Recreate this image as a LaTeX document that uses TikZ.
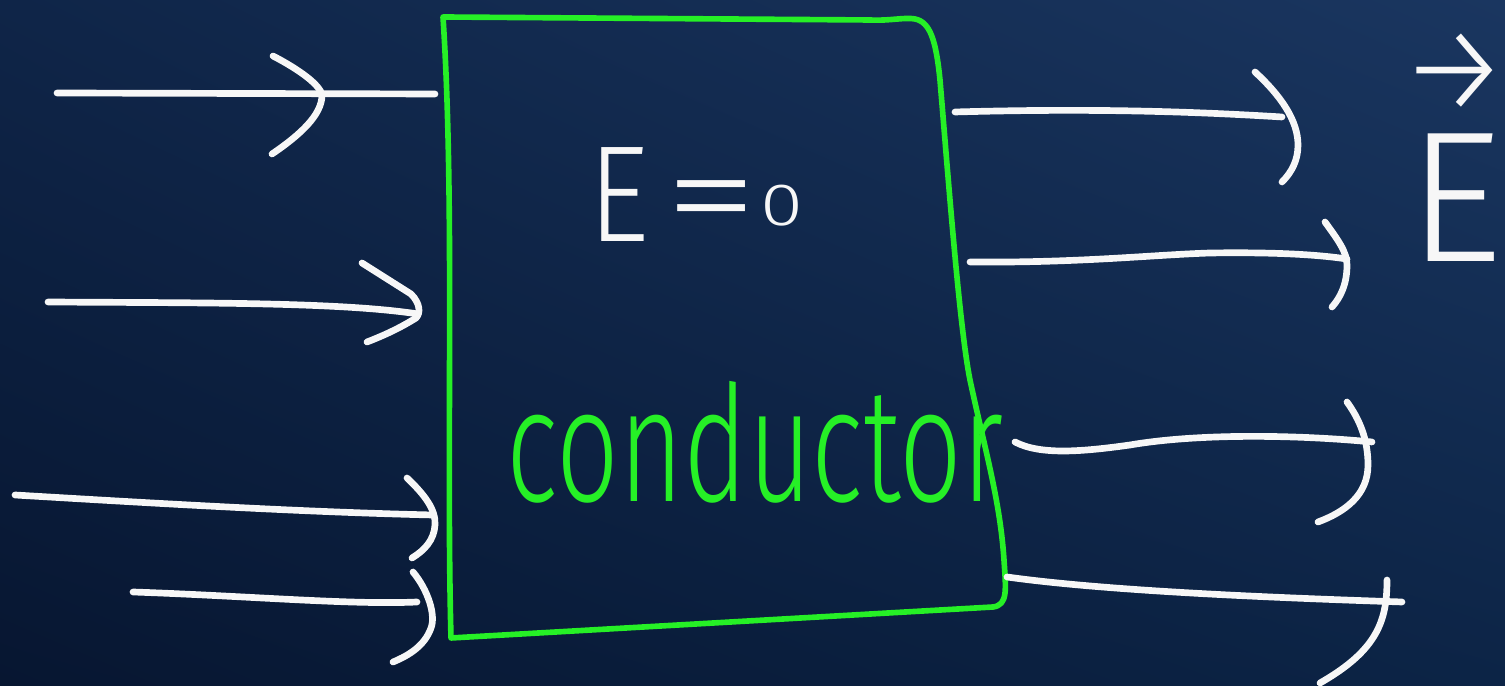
\documentclass[tikz,border=0pt]{standalone}
\usepackage{fontspec}
\usetikzlibrary{shadings}
\IfFontExistsTF{Fira Sans Light}{\newfontfamily\handfont{Fira Sans Light}}{%
  \IfFontExistsTF{Fira Sans ExtraLight}{\newfontfamily\handfont{Fira Sans ExtraLight}}{%
    \IfFontExistsTF{DejaVu Sans ExtraLight}{\newfontfamily\handfont{DejaVu Sans ExtraLight}}{%
      \newfontfamily\handfont{Fira Sans}}}}
\definecolor{bgul}{HTML}{0F2548}
\definecolor{bgur}{HTML}{1A3660}
\definecolor{bgll}{HTML}{071631}
\definecolor{bglr}{HTML}{0C2446}
\definecolor{condgreen}{HTML}{26F026}
\definecolor{chalk}{HTML}{F7F7F7}
\tikzset{
  fieldline/.style={draw=chalk, line width=1.9pt, line cap=round, line join=round},
  condline/.style={draw=condgreen, line width=1.6pt, line cap=round, line join=round},
  whitetext/.style={text=chalk, inner sep=0pt, font=\handfont},
  greentext/.style={text=condgreen, inner sep=0pt, font=\handfont}
}
\begin{document}
\begin{tikzpicture}[x=0.01cm, y=-0.01cm]
\useasboundingbox (0,0) rectangle (1505,686);
\shade[upper left=bgul, upper right=bgur, lower left=bgll, lower right=bglr] (0,0) rectangle (1505,686);

% conductor outline
\draw[condline] (443,17) -- (870,20) .. controls (890,21) and (905,17) .. (915,19)
  .. controls (930,22) and (936,40) .. (940,80)
  .. controls (950,200) and (960,330) .. (970,380)
  .. controls (985,450) and (1000,500) .. (1004,560)
  .. controls (1006,590) and (1008,605) .. (993,607)
  -- (451,638) .. controls (446,450) and (455,200) .. cycle;

% texts
\node[whitetext, xscale=0.87] (efield) at (696,195) {\fontsize{39}{44}\selectfont E\kern0.12em\scalebox{1.6}[1]{=}\kern0.02em\raisebox{4.8pt}{\scalebox{1.5}[1]{\fontsize{17}{20}\selectfont 0}}};
\node[greentext, xscale=0.68] (cond) at (755,442) {\fontsize{46}{50}\selectfont conductor};
\node[whitetext, align=center, anchor=south] (vecE) at (1455,262) {\scalebox{1.2}[1.25]{\fontsize{29}{30}\selectfont →}\\[5pt]\scalebox{1.0}[1]{\fontsize{53}{53}\selectfont E}};

% incoming field lines (left)
\draw[fieldline] (57,93) -- (435,94);
\draw[fieldline] (273,56) .. controls (300,70) and (320,85) .. (322,95) .. controls (322,115) and (300,135) .. (272,154);
\draw[fieldline] (48,302) .. controls (200,303) and (340,302) .. (418,314);
\draw[fieldline] (362,263) -- (411,294) .. controls (420,303) and (421,313) .. (416,318) .. controls (400,328) and (385,335) .. (367,342);
\draw[fieldline] (15,495) .. controls (150,503) and (300,512) .. (433,515);
\draw[fieldline] (407,478) .. controls (425,495) and (436,510) .. (435,525) .. controls (434,540) and (425,550) .. (412,558);
\draw[fieldline] (133,592) .. controls (250,596) and (350,605) .. (417,602);
\draw[fieldline] (413,572) .. controls (428,590) and (436,615) .. (431,628) .. controls (425,645) and (410,655) .. (393,662);

% outgoing field lines (right)
\draw[fieldline] (955,112) .. controls (1100,108) and (1200,112) .. (1282,117);
\draw[fieldline] (1255,72) .. controls (1280,95) and (1298,120) .. (1298,145) .. controls (1298,160) and (1292,172) .. (1282,182);
\draw[fieldline] (970,262) .. controls (1080,263) and (1150,255) .. (1210,253) .. controls (1280,252) and (1320,255) .. (1347,259);
\draw[fieldline] (1325,222) .. controls (1338,240) and (1347,252) .. (1347,265) .. controls (1347,285) and (1340,298) .. (1332,307);
\draw[fieldline] (1015,442) .. controls (1040,455) and (1080,452) .. (1130,445) .. controls (1200,433) and (1300,435) .. (1372,442);
\draw[fieldline] (1347,402) .. controls (1360,420) and (1368,440) .. (1368,465) .. controls (1368,495) and (1345,512) .. (1318,522);
\draw[fieldline] (1007,577) .. controls (1100,590) and (1250,597) .. (1402,602);
\draw[fieldline] (1387,580) .. controls (1387,620) and (1378,650) .. (1320,683);
\end{tikzpicture}
\end{document}
